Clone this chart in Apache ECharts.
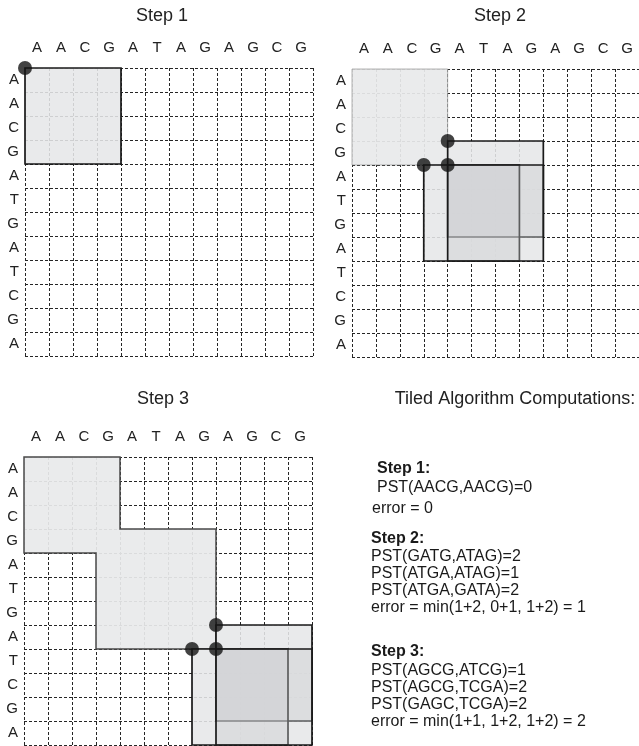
<!DOCTYPE html>
<html><head><meta charset="utf-8">
<script src="https://cdn.jsdelivr.net/npm/echarts@6/dist/echarts.min.js"></script>
<style>html,body{margin:0;padding:0;background:#fff}#c{width:639px;height:746px}</style>
</head><body><div id="c"></div><script>
// ---- data ----
const colSeq = ['A','A','C','G','A','T','A','G','A','G','C','G'];
const rowSeq = ['A','A','C','G','A','T','G','A','T','C','G','A'];
const stepTitles = ['Step 1','Step 2','Step 3'];
const doneRegion1 = [];
const doneRegion2 = [[0,0],[4,0],[4,4],[0,4]];
const doneRegion3 = [[0,0],[4,0],[4,3],[8,3],[8,8],[3,8],[3,4],[0,4]];
const tiles1 = [[0,0]];
const tiles2 = [[4,3],[3,4],[4,4]];
const tiles3 = [[8,7],[7,8],[8,8]];
const tileSize = 4;
const corners1 = [[0,0]];
const corners2 = [[4,3],[3,4],[4,4]];
const corners3 = [[8,7],[7,8],[8,8]];
const panelTitle = 'Tiled Algorithm Computations:';
const step1Lines = ['Step 1:', 'PST(AACG,AACG)=0', 'error = 0'];
const step2Lines = ['Step 2:', 'PST(GATG,ATAG)=2', 'PST(ATGA,ATAG)=1', 'PST(ATGA,GATA)=2', 'error = min(1+2, 0+1, 1+2) = 1'];
const step3Lines = ['Step 3:', 'PST(AGCG,ATCG)=1', 'PST(AGCG,TCGA)=2', 'PST(GAGC,TCGA)=2', 'error = min(1+1, 1+2, 1+2) = 2'];

// ---- layout ----
const FONT = '"Liberation Sans", Arial, Helvetica, sans-serif';
const panels = [
  {left:25, top:68, titleXY:[162,16], done:doneRegion1, tiles:tiles1, dots:corners1, doneStroke:null},
  {left:352, top:69, titleXY:[500,16], done:doneRegion2, tiles:tiles2, dots:corners2, doneStroke:'rgba(130,130,130,0.6)', doneWidth:1},
  {left:24, top:457, titleXY:[163,399], done:doneRegion3, tiles:tiles3, dots:corners3, doneStroke:'#4a4a4a', doneWidth:1.5}
];
const grid=[], xAxis=[], yAxis=[], series=[];
const dashed = {show:true, lineStyle:{color:'#262626', type:[3,2], width:1}};
panels.forEach((p,i)=>{
  grid.push({left:p.left, top:p.top, width:288, height:288});
  xAxis.push({type:'value', gridIndex:i, min:0, max:12, interval:1, position:'bottom',
    axisLine:{show:false}, axisTick:{show:false}, axisLabel:{show:false}, splitLine:dashed});
  xAxis.push({type:'category', gridIndex:i, data:colSeq, position:'top', boundaryGap:true,
    axisLine:{show:false}, axisTick:{show:false}, splitLine:{show:false},
    axisLabel:{margin:13, fontSize:15, color:'#222', fontFamily:FONT}});
  yAxis.push({type:'value', gridIndex:i, min:0, max:12, interval:1, inverse:true, position:'right',
    axisLine:{show:false}, axisTick:{show:false}, axisLabel:{show:false}, splitLine:dashed});
  yAxis.push({type:'category', gridIndex:i, data:rowSeq, position:'left', inverse:true, boundaryGap:true,
    axisLine:{show:false}, axisTick:{show:false}, splitLine:{show:false},
    axisLabel:{margin:6, fontSize:15, color:'#222', fontFamily:FONT}});
  const xi = 2*i, yi = 2*i;
  if (p.done.length) {
    series.push({type:'custom', xAxisIndex:xi, yAxisIndex:yi, silent:true, z:2,
      data:[p.done[0]],
      renderItem:(params, api)=>({type:'polygon',
        shape:{points:p.done.map(v=>api.coord(v))},
        style:{fill:'rgba(232,233,235,0.93)', stroke:p.doneStroke, lineWidth:p.doneWidth}})
    });
  }
  series.push({type:'custom', xAxisIndex:xi, yAxisIndex:yi, silent:true, z:3,
    data:p.tiles,
    renderItem:(params, api)=>{
      const a = api.coord([api.value(0), api.value(1)]);
      const b = api.coord([api.value(0)+tileSize, api.value(1)+tileSize]);
      return {type:'rect', shape:{x:a[0], y:a[1], width:b[0]-a[0], height:b[1]-a[1]},
        style:{fill:'rgba(255,255,255,0.8)'}};
    }});
  series.push({type:'custom', xAxisIndex:xi, yAxisIndex:yi, silent:true, z:4,
    data:p.tiles,
    renderItem:(params, api)=>{
      const a = api.coord([api.value(0), api.value(1)]);
      const b = api.coord([api.value(0)+tileSize, api.value(1)+tileSize]);
      return {type:'rect', shape:{x:a[0], y:a[1], width:b[0]-a[0], height:b[1]-a[1]},
        style:{fill:'rgba(199,200,203,0.39)', stroke:'#1a1a1a', lineWidth:1.7}};
    }});
  series.push({type:'scatter', xAxisIndex:xi, yAxisIndex:yi, silent:true, z:6,
    data:p.dots, symbol:'circle', symbolSize:14, itemStyle:{color:'#141414'}});
});

const graphic = [];
panels.forEach((p,i)=>graphic.push({type:'text', x:p.titleXY[0], y:p.titleXY[1],
  style:{text:stepTitles[i], font:'18px '+FONT, fill:'#222', align:'center', verticalAlign:'middle'}}));
graphic.push({type:'text', x:515, y:399,
  style:{text:panelTitle, font:'18px '+FONT, fill:'#222', align:'center', verticalAlign:'middle'}});
function addBlock(lines, xs, ys){
  lines.forEach((t,k)=>graphic.push({type:'text', x:xs[k], y:ys[k],
    style:{text:t, font:(k===0?'bold ':'')+'16px '+FONT, fill:'#1a1a1a', align:'left', verticalAlign:'middle'}}));
}
addBlock(step1Lines, [377,377,372], [469,488,509]);
addBlock(step2Lines, [371,371,371,371,371], [539,557,574,591,608]);
addBlock(step3Lines, [371,371,371,371,371], [652,671,688,705,722]);

const chart = echarts.init(document.getElementById('c'), null, {renderer:'canvas'});
chart.setOption({animation:false, grid, xAxis, yAxis, series, graphic});
</script></body></html>
